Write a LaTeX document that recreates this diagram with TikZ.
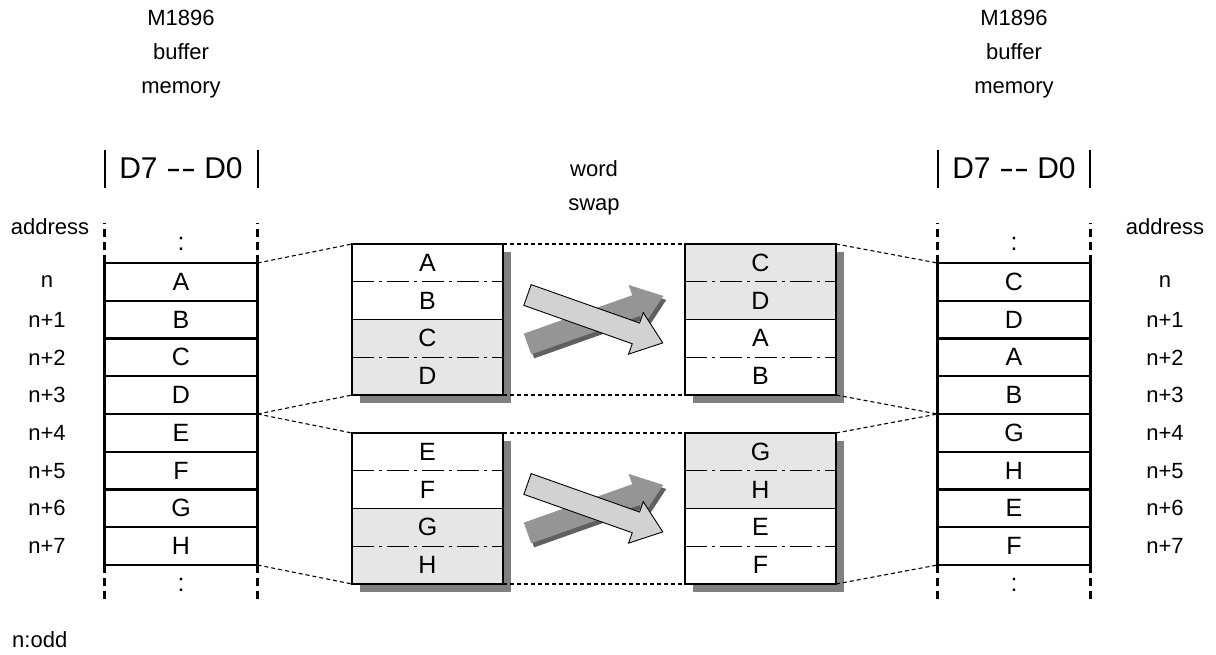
\documentclass[tikz,border=0pt]{standalone}
\usepackage{fontspec}
\setmainfont{Liberation Sans}
\definecolor{lightg}{HTML}{E6E6E6}
\definecolor{shadowg}{HTML}{808080}
\definecolor{darkarr}{HTML}{959595}
\definecolor{darkarrsh}{HTML}{606060}
\definecolor{lightarr}{HTML}{D2D2D2}
\newcommand\fsLab{\fontsize{22}{34}\selectfont}
\newcommand\fsCell{\fontsize{25}{29}\selectfont}
\newcommand\fsHead{\fontsize{30}{34}\selectfont}
\newcommand\longhy{\scalebox{1.5}[1]{-}}
\begin{document}
\begin{tikzpicture}[x=1pt,y=-1pt,
  cell/.style={draw, line width=2.2pt, minimum width=153pt, minimum height=37.75pt, inner sep=0pt, outer sep=0pt, font=\fsCell},
  blkcell/.style={minimum width=151pt, minimum height=37.75pt, inner sep=0pt, outer sep=0pt, font=\fsCell},
  lab/.style={font=\fsLab, inner sep=0pt},
  conn/.style={line width=1.1pt, dash pattern=on 4pt off 3pt},
  vdash/.style={line width=2.5pt, dash pattern=on 8pt off 5pt},
  dashdotline/.style={line width=1.2pt, dash pattern=on 22pt off 5pt on 3pt off 5pt},
  blkline/.style={line width=1.6pt},
  headbar/.style={line width=1.2pt},
  shadowbox/.style={fill=shadowg},
  darkarrow/.style={fill=darkarr},
  darkarrowsh/.style={fill=darkarrsh},
  lightarrow/.style={fill=lightarr, draw=black, line width=0.9pt, line join=miter}
]
\useasboundingbox (0,0) rectangle (1216,655);

% titles
\node[lab, align=center] (tl) at (181,54) {M1896\\buffer\\memory};
\node[lab, align=center] (tr) at (1014,54) {M1896\\buffer\\memory};
\node[font=\fsHead, inner sep=0pt] (hl) at (181,168) {D7 \longhy\longhy\ D0};
\node[font=\fsHead, inner sep=0pt] (hr) at (1014,168) {D7 \longhy\longhy\ D0};
\draw[headbar] (105,150) -- (105,188);
\draw[headbar] (258,150) -- (258,188);
\draw[headbar] (938,150) -- (938,188);
\draw[headbar] (1090,150) -- (1090,188);
\node[lab, align=center] (ws) at (594,188) {word\\swap};
\node[lab] (al) at (50,227) {address};
\node[lab] (ar) at (1165,227) {address};
\node[lab, anchor=west] (nodd) at (12,640) {n:odd};

% columns
\foreach \i/\t in {1/A,2/B,3/C,4/D,5/E,6/F,7/G,8/H}
  \node[cell] (L\i) at (181,{263+37.75*(\i-0.5)}) {\t};
\foreach \i/\t in {1/C,2/D,3/A,4/B,5/G,6/H,7/E,8/F}
  \node[cell] (R\i) at (1014,{263+37.75*(\i-0.5)}) {\t};
\foreach \i/\t in {1/n,2/n+1,3/n+2,4/n+3,5/n+4,6/n+5,7/n+6,8/n+7}{
  \node[lab] (AL\i) at (47,{263+37.75*(\i-0.5)}) {\t};
  \node[lab] (AR\i) at (1165,{263+37.75*(\i-0.5)}) {\t};
}
\draw[vdash] (L1.north west) -- ++(0,-40);
\draw[vdash] (L1.north east) -- ++(0,-40);
\draw[vdash] (L8.south west) -- ++(0,36);
\draw[vdash] (L8.south east) -- ++(0,36);
\draw[vdash] (R1.north west) -- ++(0,-40);
\draw[vdash] (R1.north east) -- ++(0,-40);
\draw[vdash] (R8.south west) -- ++(0,36);
\draw[vdash] (R8.south east) -- ++(0,36);
\node[font=\fsCell, inner sep=0pt] (cl1) at (181,244) {:};
\node[font=\fsCell, inner sep=0pt] (cl2) at (181,585) {:};
\node[font=\fsCell, inner sep=0pt] (cr1) at (1014,244) {:};
\node[font=\fsCell, inner sep=0pt] (cr2) at (1014,585) {:};

% block shadows
\fill[shadowbox] (360,252) rectangle (511,403);
\fill[shadowbox] (360,441) rectangle (511,592);
\fill[shadowbox] (693,252) rectangle (844,403);
\fill[shadowbox] (693,441) rectangle (844,592);

% blocks
\foreach \i/\t/\f in {1/A/white,2/B/white,3/C/lightg,4/D/lightg}
  \node[blkcell, fill=\f] (LU\i) at (427.5,{244+37.75*(\i-0.5)}) {\t};
\foreach \i/\t/\f in {1/E/white,2/F/white,3/G/lightg,4/H/lightg}
  \node[blkcell, fill=\f] (LD\i) at (427.5,{433+37.75*(\i-0.5)}) {\t};
\foreach \i/\t/\f in {1/C/lightg,2/D/lightg,3/A/white,4/B/white}
  \node[blkcell, fill=\f] (RU\i) at (760.5,{244+37.75*(\i-0.5)}) {\t};
\foreach \i/\t/\f in {1/G/lightg,2/H/lightg,3/E/white,4/F/white}
  \node[blkcell, fill=\f] (RD\i) at (760.5,{433+37.75*(\i-0.5)}) {\t};
\foreach \b in {LU,LD,RU,RD}{
  \draw[dashdotline] (\b1.south west) -- (\b1.south east);
  \draw[dashdotline] (\b3.south west) -- (\b3.south east);
  \draw[blkline] (\b2.south west) -- (\b2.south east);
  \draw[blkline] (\b1.north west) rectangle (\b4.south east);
}

% connectors
\draw[conn] (L1.north east) -- (LU1.north west);
\draw[conn] (L4.south east) -- (LU4.south west);
\draw[conn] (L5.north east) -- (LD1.north west);
\draw[conn] (L8.south east) -- (LD4.south west);
\draw[conn] (LU1.north east) -- (RU1.north west);
\draw[conn] (LU4.south east) -- (RU4.south west);
\draw[conn] (LD1.north east) -- (RD1.north west);
\draw[conn] (LD4.south east) -- (RD4.south west);
\draw[conn] (RU1.north east) -- (R1.north west);
\draw[conn] (RU4.south east) -- (R4.south west);
\draw[conn] (RD1.north east) -- (R5.north west);
\draw[conn] (RD4.south east) -- (R8.south west);

% swap arrows
\foreach \dy in {0,189}{
  \begin{scope}[shift={(530.5,{348+\dy})}, rotate=19.5]
    \fill[darkarrowsh] (0,-11) -- (115,-11) -- (115,-22) -- (144,0) -- (115,22) -- (115,11) -- (0,11) -- cycle;
  \end{scope}
  \begin{scope}[shift={(527.5,{344+\dy})}, rotate=19.5]
    \fill[darkarrow] (0,-11) -- (115,-11) -- (115,-22) -- (144,0) -- (115,22) -- (115,11) -- (0,11) -- cycle;
  \end{scope}
  \begin{scope}[shift={(527.5,{295+\dy})}, rotate=-19.5]
    \draw[lightarrow] (0,-11) -- (115,-11) -- (115,-22) -- (143.5,0) -- (115,22) -- (115,11) -- (0,11) -- cycle;
  \end{scope}
}
\end{tikzpicture}
\end{document}
